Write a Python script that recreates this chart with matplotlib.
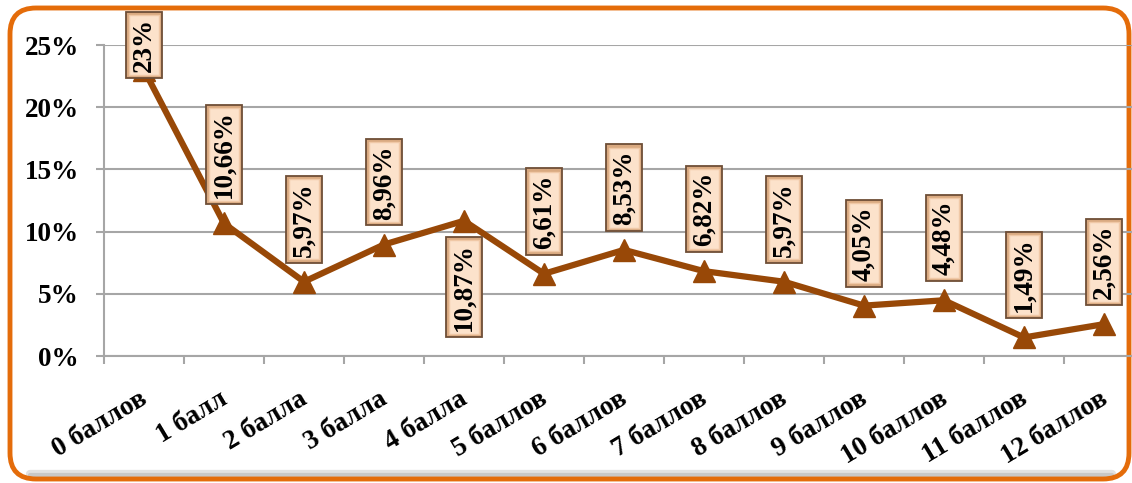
import matplotlib
matplotlib.use('Agg')
import matplotlib.pyplot as plt
from matplotlib.patches import FancyBboxPatch
from matplotlib.transforms import offset_copy
import numpy as np

categories = ['0 баллов', '1 балл', '2 балла', '3 балла', '4 балла', '5 баллов',
              '6 баллов', '7 баллов', '8 баллов', '9 баллов', '10 баллов',
              '11 баллов', '12 баллов']
values = [23, 10.66, 5.97, 8.96, 10.87, 6.61, 8.53, 6.82, 5.97, 4.05, 4.48, 1.49, 2.56]
value_labels = ['23%', '10,66%', '5,97%', '8,96%', '10,87%', '6,61%', '8,53%',
                '6,82%', '5,97%', '4,05%', '4,48%', '1,49%', '2,56%']
label_side = ['top', 'above', 'above', 'above', 'below', 'above', 'above',
              'above', 'above', 'above', 'above', 'above', 'above']
yticks = [0, 5, 10, 15, 20, 25]
ytick_labels = ['0%', '5%', '10%', '15%', '20%', '25%']

W, H = 1132, 483
fig = plt.figure(figsize=(W / 100, H / 100), dpi=100)
fig.patch.set_facecolor('white')

# background axes in pixel units for the rounded frame
bg = fig.add_axes([0, 0, 1, 1], zorder=-5)
bg.set_xlim(0, W); bg.set_ylim(0, H); bg.axis('off')
for off, c, lw in ((9, '#E2E2E2', 6), (8, '#C8C8C8', 3)):
    bg.plot([30, 1112], [off, off], color=c, lw=lw, solid_capstyle='round', zorder=1)
frame = FancyBboxPatch((10, 4), 1119, 471, boxstyle='round,pad=0,rounding_size=26',
                       facecolor='none', edgecolor='#E46C0A', linewidth=3.5, zorder=2)
bg.add_patch(frame)

ax = fig.add_axes([104 / W, 127 / H, 1040 / W, 311 / H])
ax.set_facecolor('none')
x = np.arange(len(values))
line_color = '#984807'
ax.plot(x, values, color=line_color, lw=4.5, marker='^', ms=16,
        markeredgecolor=line_color, zorder=3, clip_on=False)

ax.set_xlim(-0.5, len(values) - 0.5)
ax.set_ylim(0, 25)
ax.set_yticks(yticks)
ax.set_yticklabels(ytick_labels)
ax.set_xticks(x)
ax.set_xticklabels(categories)
ax.set_xticks(np.arange(-0.5, len(values), 1.0), minor=True)

grid_c = '#A6A6A6'
ax.yaxis.grid(True, color=grid_c, lw=1.5, zorder=0)
ax.set_axisbelow(True)
for s in ['top', 'right']:
    ax.spines[s].set_visible(False)
for s in ['left', 'bottom']:
    ax.spines[s].set_color(grid_c)
    ax.spines[s].set_linewidth(1.5)

font = dict(family='Liberation Serif', weight='bold')
ax.tick_params(axis='x', which='major', length=0, pad=22)
ax.tick_params(axis='x', which='minor', length=6, width=1.5, color=grid_c)
ax.tick_params(axis='y', length=6, width=1.5, color=grid_c, pad=12)
for lab in ax.get_yticklabels():
    lab.set_fontfamily('Liberation Serif'); lab.set_fontweight('bold'); lab.set_fontsize(19.5)
for lab in ax.get_xticklabels():
    lab.set_fontfamily('Liberation Serif'); lab.set_fontweight('bold'); lab.set_fontsize(19.5)
    lab.set_rotation(31); lab.set_ha('right'); lab.set_rotation_mode('anchor')
    lab.set_transform(offset_copy(lab.get_transform(), fig=fig, x=-5, y=0, units='dots'))

outer = dict(boxstyle='square,pad=0.22', facecolor='#D9A980', edgecolor='#6E4E36', linewidth=1.3)
inner = dict(boxstyle='square,pad=0.1', facecolor='#FCE2CB', edgecolor='#F0C8A6', linewidth=1.0)
for xi, v, txt, side in zip(x, values, value_labels, label_side):
    if side == 'top':
        xy, off, va = (xi, ax.get_ylim()[1]), (0, 0), 'center'
    elif side == 'above':
        xy, off, va = (xi, v), (0, 18), 'bottom'
    else:
        xy, off, va = (xi, v), (0, -16), 'top'
    for bb, z in ((outer, 5), (inner, 6)):
        ax.annotate(txt, xy, xytext=off, textcoords='offset points',
                    rotation=90, ha='center', va=va, fontsize=19.5, bbox=bb,
                    zorder=z, **font)

fig.savefig('out.png', dpi=100)
